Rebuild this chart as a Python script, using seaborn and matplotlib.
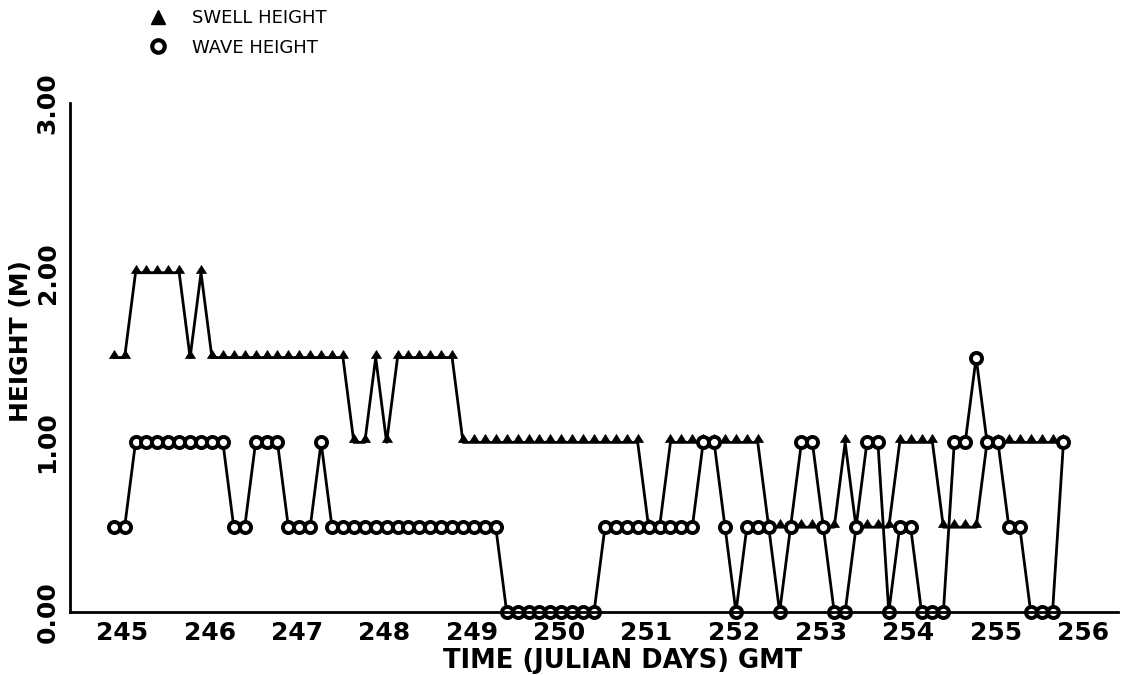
import numpy as np
import pandas as pd
import matplotlib
matplotlib.use("Agg")
import matplotlib.pyplot as plt
import matplotlib.transforms as mtransforms
from matplotlib.lines import Line2D
import seaborn as sns

# 3-hourly observations, the first one at 12Z on julian day 244
first_obs_day = 244.5
obs_step_days = 0.125

swell_height = [
    1.5, 1.5,
    2.0, 2.0, 2.0, 2.0, 2.0,
    1.5, 2.0,
    1.5, 1.5, 1.5, 1.5, 1.5, 1.5, 1.5, 1.5, 1.5, 1.5, 1.5, 1.5, 1.5,
    1.0, 1.0, 1.5, 1.0,
    1.5, 1.5, 1.5, 1.5, 1.5, 1.5,
    1.0, 1.0, 1.0, 1.0, 1.0, 1.0, 1.0, 1.0, 1.0, 1.0, 1.0, 1.0, 1.0, 1.0, 1.0, 1.0, 1.0,
    0.5, 0.5,
    1.0, 1.0, 1.0, 1.0, 1.0, 1.0, 1.0, 1.0, 1.0,
    0.5, 0.5, 0.5, 0.5, 0.5, 0.5, 0.5,
    1.0,
    0.5, 0.5, 0.5, 0.5,
    1.0, 1.0, 1.0, 1.0,
    0.5, 0.5, 0.5, 0.5,
    1.0, 1.0, 1.0, 1.0, 1.0, 1.0, 1.0, 1.0,
]

wave_height = [
    0.5, 0.5,
    1.0, 1.0, 1.0, 1.0, 1.0, 1.0, 1.0, 1.0, 1.0,
    0.5, 0.5,
    1.0, 1.0, 1.0,
    0.5, 0.5, 0.5,
    1.0,
    0.5, 0.5, 0.5, 0.5, 0.5, 0.5, 0.5, 0.5, 0.5, 0.5, 0.5, 0.5, 0.5, 0.5, 0.5, 0.5,
    0.0, 0.0, 0.0, 0.0, 0.0, 0.0, 0.0, 0.0, 0.0,
    0.5, 0.5, 0.5, 0.5, 0.5, 0.5, 0.5, 0.5, 0.5,
    1.0, 1.0, 0.5, 0.0,
    0.5, 0.5, 0.5, 0.0, 0.5,
    1.0, 1.0, 0.5, 0.0, 0.0, 0.5,
    1.0, 1.0, 0.0, 0.5, 0.5,
    0.0, 0.0, 0.0,
    1.0, 1.0, 1.5, 1.0, 1.0,
    0.5, 0.5,
    0.0, 0.0, 0.0,
    1.0,
]

day_ticks = list(range(244, 257))
day_labels = [""] + [str(d) for d in range(245, 257)]
height_ticks = [0, 1, 2, 3]
height_labels = ["0.00", "1.00", "2.00", "3.00"]

obs_day = first_obs_day + obs_step_days * np.arange(len(swell_height))
df = pd.DataFrame({"day": obs_day, "swell": swell_height, "wave": wave_height})

sns.set_style("white")
plt.rcParams["font.family"] = ["DejaVu Sans"]
plt.rcParams["text.color"] = "black"
plt.rcParams["axes.labelcolor"] = "black"
plt.rcParams["xtick.color"] = "black"
plt.rcParams["ytick.color"] = "black"

fig = plt.figure(figsize=(11.24, 6.75), dpi=100)
ax = fig.add_axes([0.0623, 0.0933, 0.9324, 0.754])

# triangle sitting on its base, like the old plotter symbol
tri_marker = [(-1, 0), (1, 0), (0, 1.6), (-1, 0)]

sns.lineplot(data=df, x="day", y="swell", ax=ax, estimator=None, color="black",
             linewidth=2.0, marker=tri_marker, markersize=11.5, markeredgewidth=0.5,
             markerfacecolor="black", markeredgecolor="black", clip_on=False)
sns.lineplot(data=df, x="day", y="wave", ax=ax, estimator=None, color="black",
             linewidth=2.0, marker="o", markersize=8, markeredgewidth=2.8,
             markerfacecolor="white", markeredgecolor="black", clip_on=False)

ax.set_xlim(244, 256)
ax.set_ylim(0, 3)
sns.despine(ax=ax)
for side in ["left", "bottom"]:
    ax.spines[side].set_linewidth(2.0)
    ax.spines[side].set_color("black")

ax.set_xticks(day_ticks)
ax.set_xticklabels(day_labels, fontsize=18, fontweight="bold", ha="right")
ax.set_yticks(height_ticks)
ax.set_yticklabels(height_labels, fontsize=18, fontweight="bold", rotation=90, va="center")
ax.tick_params(axis="x", direction="out", length=5, width=1.8, pad=1.5)
ax.tick_params(axis="y", direction="out", length=5, width=1.8, pad=2.5)

shift = mtransforms.ScaledTranslation(-0.09, 0, fig.dpi_scale_trans)
for lab in ax.get_xticklabels():
    lab.set_transform(lab.get_transform() + shift)

ax.set_xlabel("TIME (JULIAN DAYS) GMT", fontsize=18.5, fontweight="bold", va="top")
ax.xaxis.set_label_coords(0.527, -0.071)
ax.set_ylabel("HEIGHT (M)", fontsize=18, fontweight="bold", rotation=90,
              ha="center", va="center")
ax.yaxis.set_label_coords(-0.047, 0.532)

handles = [
    Line2D([], [], linestyle="none", marker="^", markersize=10, color="black"),
    Line2D([], [], linestyle="none", marker="o", markersize=9, markerfacecolor="white",
           markeredgecolor="black", markeredgewidth=3),
]
fig.legend(handles, ["SWELL HEIGHT", "WAVE HEIGHT"], loc="upper left",
           bbox_to_anchor=(0.1326, 0.986), frameon=False, fontsize=13,
           handlelength=1.0, handletextpad=1.4, labelspacing=0.62,
           borderpad=0, borderaxespad=0)

fig.savefig("out.png", dpi=100)
